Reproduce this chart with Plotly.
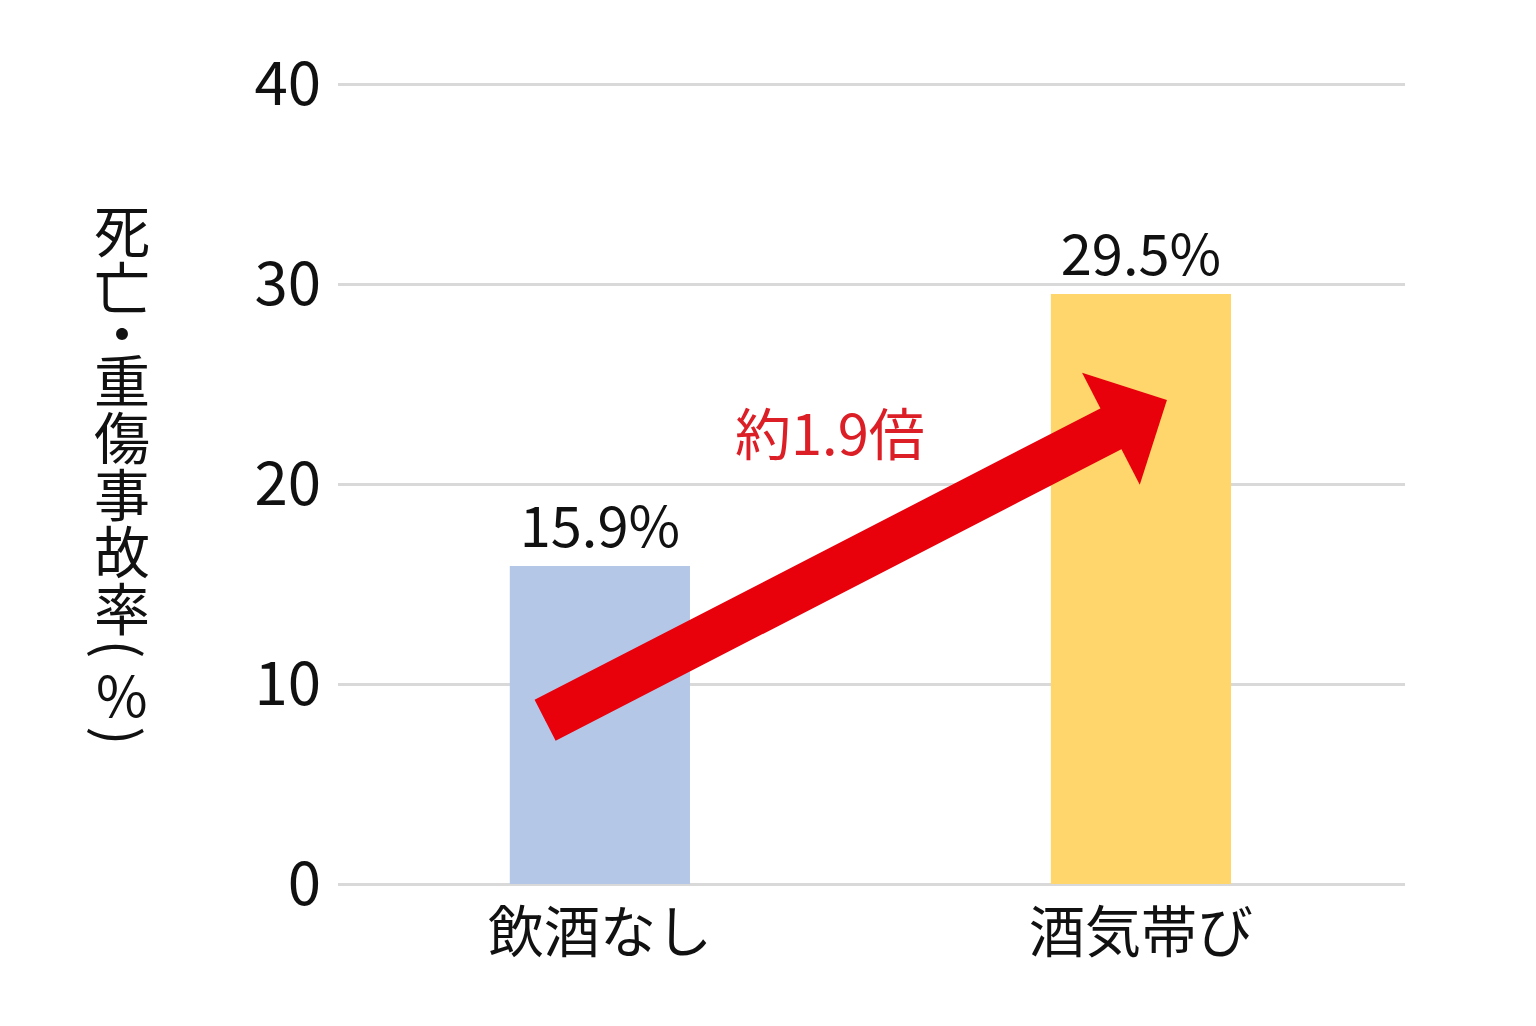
import plotly.graph_objects as go

# データ
categories = ["飲酒なし", "酒気帯び"]
rates = [15.9, 29.5]
bar_colors = ["#b4c7e7", "#fed66b"]
y_ticks = [0, 10, 20, 30, 40]
ratio_label = "約1.9倍"
y_title = ["死", "亡", "・", "重", "傷", "事", "故", "率", "(", "%", ")"]

FONT = "Noto Sans CJK JP"
RED = "#e8000b"

fig = go.Figure()
fig.add_trace(go.Bar(
    x=categories,
    y=rates,
    marker=dict(color=bar_colors, line=dict(width=0)),
    width=0.333,
    text=[f"{v}%" for v in rates],
    textposition="outside",
    textfont=dict(family=FONT, size=56, color="#111111"),
    cliponaxis=False,
    hoverinfo="skip",
))

# 矢印（太い軸＋別の矢じり）
tip = dict(x=1.048, y=24.2)
tail = dict(ax=-0.104, ay=8.15)
fig.add_annotation(
    **tip, **tail, xref="x", yref="y", axref="x", ayref="y",
    text="", showarrow=True, arrowhead=0, arrowwidth=46,
    standoff=38, arrowcolor=RED,
)
fig.add_annotation(
    **tip, **tail, xref="x", yref="y", axref="x", ayref="y",
    text="", showarrow=True, arrowhead=1, arrowwidth=1,
    arrowsize=21, arrowcolor=RED,
)
fig.add_annotation(
    x=0.425, y=22.7, xref="x", yref="y",
    text=ratio_label, showarrow=False,
    font=dict(family=FONT, size=56, color="#dc1f26"),
)

# 縦書きの軸タイトル（1文字ずつ）
heights = {"・": 36, "(": 30, ")": 30}
pos = 227
prev_h = None
for ch in y_title:
    h = heights.get(ch, 57)
    if prev_h is not None:
        pos += (prev_h + h) / 2
    prev_h = h
    fig.add_annotation(
        x=0, y=1, xref="paper", yref="paper",
        xanchor="center", yanchor="middle",
        xshift=-216, yshift=81 - pos,
        text=ch, showarrow=False,
        textangle=90 if ch in "()" else 0,
        font=dict(family=FONT, size=56, color="#111111"),
    )

fig.update_layout(
    width=1536, height=1026,
    margin=dict(l=330, r=139, t=73, b=147),
    paper_bgcolor="white", plot_bgcolor="white",
    showlegend=False,
    font=dict(family=FONT, color="#111111"),
    xaxis=dict(
        showgrid=False, showline=False, zeroline=False,
        tickfont=dict(family=FONT, size=56, color="#111111"),
        ticklabelstandoff=8,
        range=[-0.484, 1.488],
    ),
    yaxis=dict(
        range=[-0.15, 40.15], tickvals=y_ticks,
        showgrid=True, gridcolor="#d9d9d9", gridwidth=3,
        zeroline=False, showline=False,
        tickfont=dict(family=FONT, size=60, color="#111111"),
        ticklabelstandoff=16,
    ),
)

fig.write_html("out.html")
